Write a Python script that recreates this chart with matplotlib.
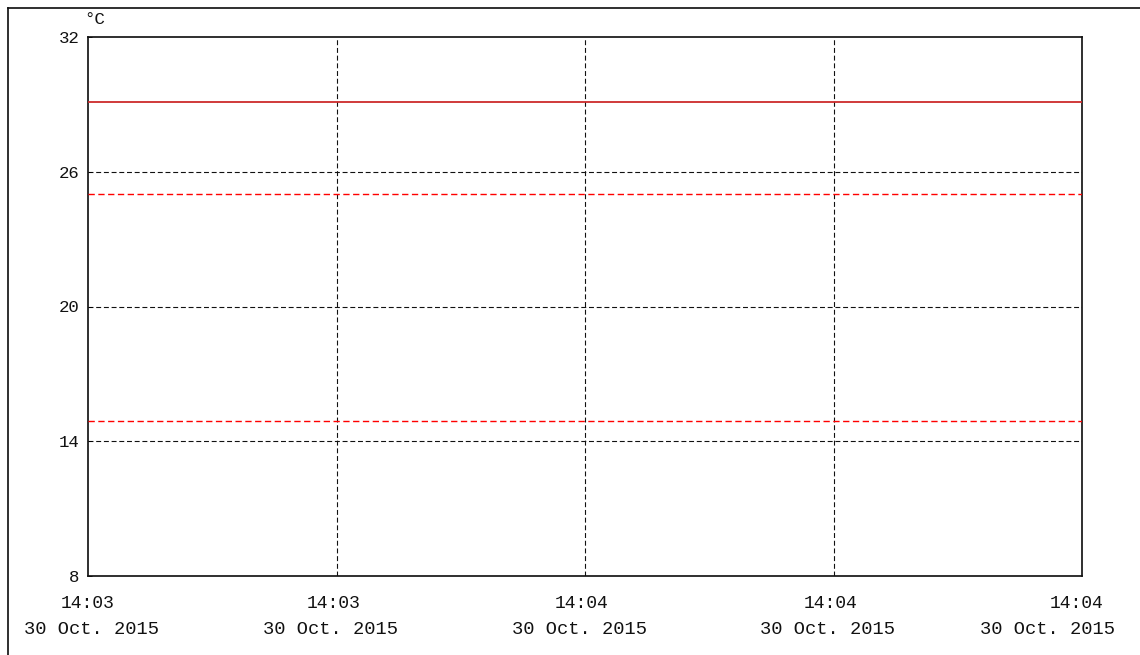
import matplotlib
matplotlib.use("Agg")
import matplotlib.pyplot as plt
from matplotlib.lines import Line2D
import matplotlib.transforms as mtransforms

# ---- data ----
x_positions = [0, 1, 2, 3, 4]
time_labels = ["14:03", "14:03", "14:04", "14:04", "14:04"]
date_labels = ["30 Oct. 2015"] * 5
y_ticks = [8, 14, 20, 26, 32]
y_min, y_max = 8, 32
measured_value = 29.1       # red solid line
upper_limit = 25.0          # red dashed
lower_limit = 14.9          # red dashed
unit_label = "°C"

FONT = "Liberation Mono"
plt.rcParams["font.family"] = [FONT, "DejaVu Sans Mono"]

fig = plt.figure(figsize=(11.4, 6.55), dpi=100)
fig.patch.set_facecolor("white")
W, H = 1140, 655
ax = fig.add_axes([88 / W, 1 - 576 / H, (1082 - 88) / W, (576 - 37) / H])

ax.set_xlim(x_positions[0], x_positions[-1])
ax.set_ylim(y_min, y_max)

px = 0.72  # one pixel in points
grid_kw = dict(color="#111111", lw=1.1 * px, linestyle=(0, (4.5, 2.5)), zorder=1)
for yv in y_ticks[1:-1]:
    ax.axhline(yv, **grid_kw)
for xv in x_positions[1:-1]:
    ax.axvline(xv, **grid_kw)

ax.plot([x_positions[0], x_positions[-1]], [measured_value] * 2,
        color="#cc2a2a", lw=1.8 * px, zorder=3, solid_capstyle="butt")
for lim in (upper_limit, lower_limit):
    ax.plot([x_positions[0], x_positions[-1]], [lim] * 2,
            color="#ff0000", lw=1.4 * px, linestyle=(0, (4.5, 2.5)), zorder=3)

for s in ax.spines.values():
    s.set_linewidth(1.7 * px)
    s.set_color("#111111")

ax.set_yticks(y_ticks)
ax.set_yticklabels([str(v) for v in y_ticks], fontsize=12.5, color="#111111")
ax.tick_params(axis="y", length=3, width=1 * px, direction="in", pad=6)
ax.set_xticks(x_positions)
ax.set_xticklabels([""] * len(x_positions))
ax.tick_params(axis="x", length=0)

# x labels (two lines)
trans = mtransforms.blended_transform_factory(ax.transData, fig.transFigure)
for i, (xv, t, d) in enumerate(zip(x_positions, time_labels, date_labels)):
    off_t = 0
    off_d = 0
    if i == len(x_positions) - 1:
        off_t = -5
        off_d = -35
    if i == 0:
        off_d = 4
    elif i < len(x_positions) - 1:
        off_t = -3
        off_d = -6
    tr_t = trans + mtransforms.ScaledTranslation(off_t / 100, 0, fig.dpi_scale_trans)
    tr_d = trans + mtransforms.ScaledTranslation(off_d / 100, 0, fig.dpi_scale_trans)
    ax.text(xv, 1 - 604 / H, t, transform=tr_t, ha="center", va="center",
            fontsize=13, color="#111111")
    ax.text(xv, 1 - 630 / H, d, transform=tr_d, ha="center", va="center",
            fontsize=13.5, color="#111111")

# unit label
fig.text(95 / W, 1 - 19 / H, unit_label, ha="center", va="center",
         fontsize=12.5, color="#111111")

# outer frame (left and top edges)
fig.add_artist(Line2D([7.5 / W, 7.5 / W], [0, 1 - 7.5 / H], transform=fig.transFigure,
                      color="#111111", lw=1.7 * px))
fig.add_artist(Line2D([7.5 / W, 1], [1 - 7.5 / H, 1 - 7.5 / H], transform=fig.transFigure,
                      color="#111111", lw=1.7 * px))

fig.savefig("out.png", dpi=100, facecolor="white")
